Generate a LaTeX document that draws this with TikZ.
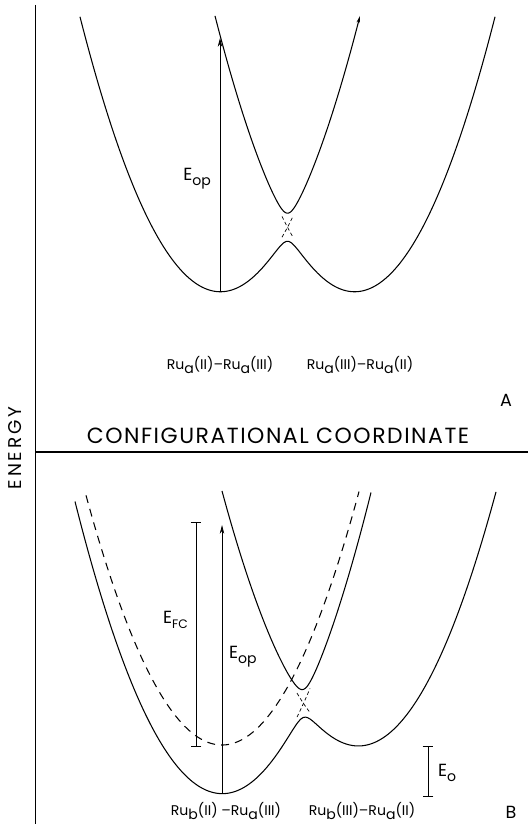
\documentclass[tikz,border=0pt]{standalone}
\usepackage{fontspec}
\setmainfont{Poppins}
\newfontfamily\wide{Poppins}[LetterSpace=7]
\newfontfamily\wider{Poppins}[LetterSpace=15]
\usetikzlibrary{arrows.meta}
\newcommand{\dn}[1]{\raisebox{-0.5ex}{\footnotesize #1}}
\tikzset{
  curve/.style={semithick, line join=round},
  crossing/.style={thin, dash pattern=on 2pt off 1.5pt},
  diabatic/.style={semithick, dash pattern=on 4.5pt off 3.5pt},
  state/.style={font=\fontsize{8}{9}\selectfont},
  elabel/.style={font=\fontsize{10}{12}\selectfont},
  gap/.style={thin, {Bar[width=6pt]}-{Bar[width=6pt]}},
  transition/.style={thin, -{Stealth[length=5pt,width=2.5pt]}},
  declare function={
    par(\x,\c,\k)=\k*((\x-\c)/10)^2;
    low(\p,\q)=(\p+\q)/2-sqrt(((\p-\q)/2)^2+1.96);
    upp(\p,\q)=(\p+\q)/2+sqrt(((\p-\q)/2)^2+1.96);
  }
}
\begin{document}
\begin{tikzpicture}[x=0.02cm, y=-0.02cm]
        \useasboundingbox (0,0) rectangle (528,824);
        %axes
        \draw[thin] (35,5) -- (35,824);
        \draw[semithick] (35,452) -- (528,452);
        \node[font=\wider\fontsize{10.5}{12}\selectfont, rotate=90] (energy) at (15,448) {ENERGY};
        \node[font=\wide\fontsize{12.5}{14}\selectfont] (coord) at (278,436) {CONFIGURATIONAL COORDINATE};

        %panel A
        \draw[curve] plot[domain=80:495, samples=160] (\x, {291-10*low(par(\x,220,0.14), par(\x,355,0.14))});
        \draw[curve, -{Stealth[length=4pt,width=2pt]}] plot[domain=215:360, samples=120] (\x, {291-10*upp(par(\x,220,0.14), par(\x,355,0.14))});
        \draw[crossing] plot[domain=282:293, samples=10] (\x, {291-10*par(\x,220,0.14)});
        \draw[crossing] plot[domain=282:293, samples=10] (\x, {291-10*par(\x,355,0.14)});
        \coordinate (amin) at (220,291);
        \coordinate (atop) at (220,38);
        \draw[transition] (amin) -- (atop);
        \node[elabel, anchor=east] (aop) at (217,179) {E\dn{op}};
        \node[state] (aleft) at (220,365) {Ru\dn{a}(II)--Ru\dn{a}(III)};
        \node[state] (aright) at (360,365) {Ru\dn{a}(III)--Ru\dn{a}(II)};
        \node[elabel] (pa) at (506,400) {A};

        %panel B
        \draw[curve] plot[domain=75:496, samples=180] (\x, {793-10*low(par(\x,222,0.135), par(\x,359,0.135)+4.8)});
        \draw[curve] plot[domain=222:371, samples=120] (\x, {793-10*upp(par(\x,222,0.135), par(\x,359,0.135)+4.8)});
        \draw[diabatic] plot[domain=86:359, samples=120] (\x, {745-10*par(\x,222,0.135)});
        \draw[crossing] plot[domain=297:310, samples=10] (\x, {793-10*par(\x,222,0.135)});
        \draw[crossing] plot[domain=297:310, samples=10] (\x, {745-10*par(\x,359,0.135)});
        \coordinate (bmin) at (222,793);
        \coordinate (btop) at (222,525);
        \draw[transition] (bmin) -- (btop);
        \coordinate (fctop) at (196,522);
        \coordinate (fcbot) at (196,747);
        \draw[gap] (fcbot) -- (fctop);
        \coordinate (eotop) at (428,746);
        \coordinate (eobot) at (428,797);
        \draw[gap] (eobot) -- (eotop);
        \node[elabel, anchor=east] (fc) at (194,620) {E\dn{\scriptsize FC}};
        \node[elabel, anchor=west] (bop) at (223,657) {E\dn{op}};
        \node[elabel, anchor=west] (eo) at (432,773) {E\dn{o}};
        \node[state] (bleft) at (226,811) {Ru\dn{b}(II) --Ru\dn{a}(III)};
        \node[state] (bright) at (362,811) {Ru\dn{b}(III)--Ru\dn{a}(II)};
        \node[elabel] (pb) at (511,812) {B};
\end{tikzpicture}
\end{document}
